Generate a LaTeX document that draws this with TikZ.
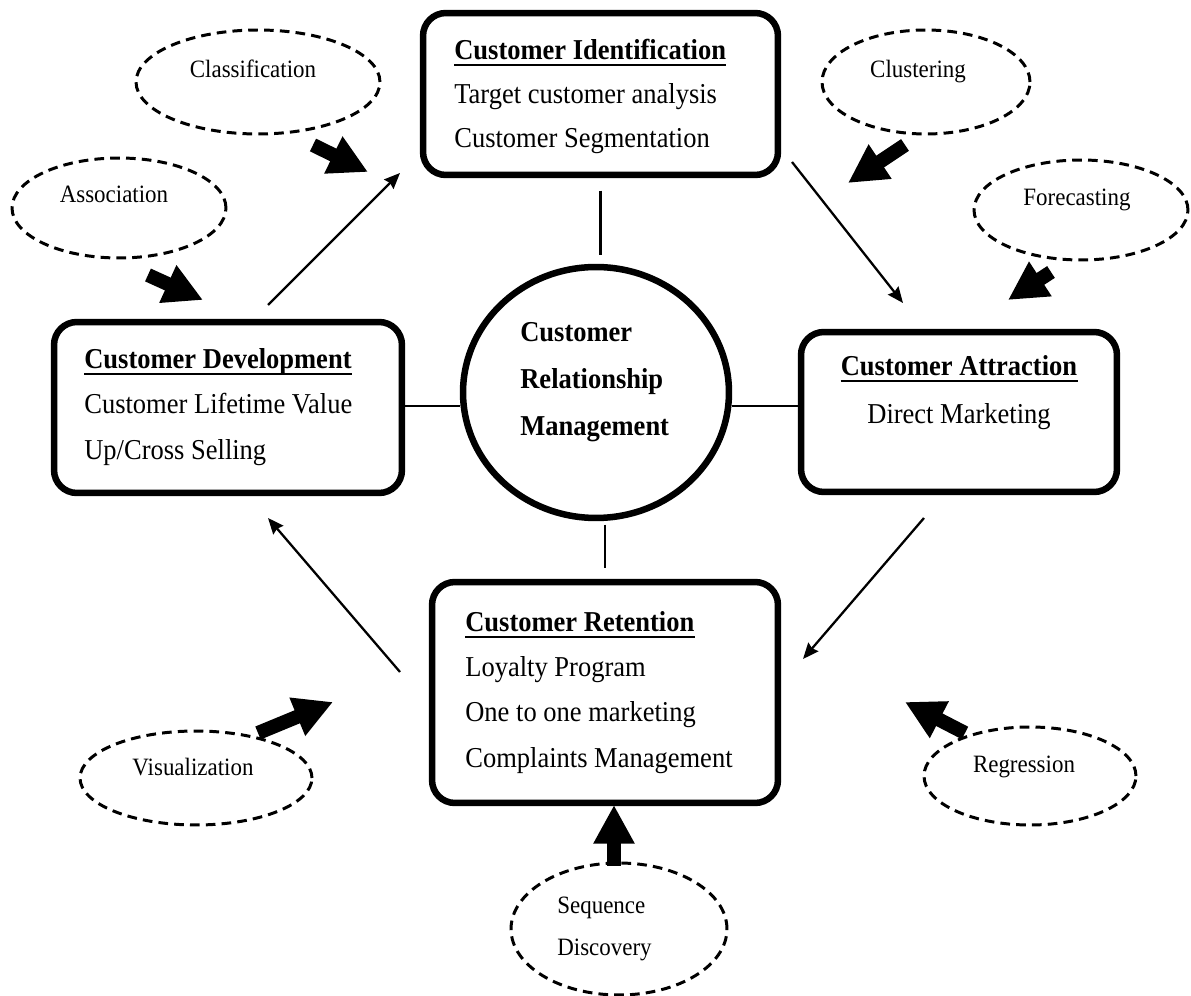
\documentclass[tikz,border=0pt]{standalone}
\usepackage{fontspec}
\setmainfont{Liberation Serif}[FakeStretch=0.92]
\usetikzlibrary{arrows.meta,shapes.geometric}
\newcommand{\bigf}{\fontsize{16.4pt}{19pt}\selectfont}
\newcommand{\smallf}{\fontsize{14.2pt}{17pt}\selectfont}
\begin{document}
\begin{tikzpicture}[x=0.02cm,y=-0.02cm,
  box/.style={draw, line width=3.7pt, rounded corners=13pt, inner sep=0pt},
  crmshape/.style={draw, ellipse, line width=3.7pt, inner sep=0pt},
  oval/.style={draw, ellipse, dash pattern=on 5.5pt off 3.5pt, line width=1.7pt, inner sep=0pt},
  txt/.style={inner sep=0pt, font=\bigf, anchor=base west},
  ttl/.style={inner sep=0pt, font=\bigf\bfseries, anchor=base west},
  lbl/.style={inner sep=0pt, font=\smallf, anchor=base},
  uline/.style={line width=1.5pt},
  link/.style={line width=1.2pt},
  flow/.style={line width=1.3pt, -{Stealth[length=9pt,width=7.5pt,inset=1pt]}},
  fat/.style={line width=8pt, -{Triangle[length=22pt,width=22pt]}}
]
\useasboundingbox (0,0) rectangle (1191,996);

% main boxes
\node[box, minimum width=7.1cm, minimum height=3.24cm] (ident) at (600.5,94) {};
\node[box, minimum width=6.96cm, minimum height=3.42cm] (dev) at (228,407.5) {};
\node[box, minimum width=6.32cm, minimum height=3.2cm] (att) at (959,412) {};
\node[box, minimum width=6.92cm, minimum height=4.42cm] (ret) at (605,692.5) {};
\node[crmshape, minimum width=5.32cm, minimum height=5.02cm] (crm) at (596,392.5) {};

% texts in boxes
\node[ttl] (tid) at (454,60) {Customer Identification};
\draw[uline] ([yshift=-2.8pt]tid.base west) -- ([yshift=-2.8pt]tid.base east);
\node[txt] (tid1) at (454,104) {Target customer analysis};
\node[txt] (tid2) at (454,148) {Customer Segmentation};

\node[ttl] (tdv) at (84,369) {Customer Development};
\draw[uline] ([yshift=-2.8pt]tdv.base west) -- ([yshift=-2.8pt]tdv.base east);
\node[txt] (tdv1) at (84,414) {Customer Lifetime Value};
\node[txt] (tdv2) at (84,460) {Up/Cross Selling};

\node[ttl, anchor=base] (tat) at (959,376) {Customer Attraction};
\draw[uline] ([yshift=-2.8pt]tat.base west) -- ([yshift=-2.8pt]tat.base east);
\node[txt, anchor=base] (tat1) at (959,424) {Direct Marketing};

\node[ttl] (trt) at (465,632) {Customer Retention};
\draw[uline] ([yshift=-2.8pt]trt.base west) -- ([yshift=-2.8pt]trt.base east);
\node[txt] (trt1) at (465,677) {Loyalty Program};
\node[txt] (trt2) at (465,722) {One to one marketing};
\node[txt] (trt3) at (465,768) {Complaints Management};

\node[ttl] (tc1) at (520,342) {Customer};
\node[ttl] (tc2) at (520,389) {Relationship};
\node[ttl] (tc3) at (520,436) {Management};

% dashed ovals
\node[oval, minimum width=4.88cm, minimum height=2.08cm] (ecl) at (258,82) {};
\node[oval, minimum width=4.28cm, minimum height=2.0cm] (eas) at (119,208) {};
\node[oval, minimum width=4.16cm, minimum height=2.08cm] (ecu) at (926,82) {};
\node[oval, minimum width=4.28cm, minimum height=2.0cm] (efo) at (1081,210) {};
\node[oval, minimum width=4.64cm, minimum height=1.88cm] (evi) at (196,778) {};
\node[oval, minimum width=4.24cm, minimum height=1.96cm] (ere) at (1030,776) {};
\node[oval, minimum width=4.32cm, minimum height=2.64cm] (ese) at (619,929) {};

\node[lbl] (lcl) at (253,78) {Classification};
\node[lbl] (las) at (114,203) {Association};
\node[lbl] (lcu) at (918,78) {Clustering};
\node[lbl] (lfo) at (1077,206) {Forecasting};
\node[lbl] (lvi) at (193,776) {Visualization};
\node[lbl] (lre) at (1024,773) {Regression};
\node[lbl, anchor=base west] (lse1) at (557,913) {Sequence};
\node[lbl, anchor=base west] (lse2) at (557,955) {Discovery};

% plain links to the centre
\draw[link, shorten <=7pt, shorten >=5pt] (ident.south) -- (ident.south |- crm.north);
\draw[link, shorten <=2pt, shorten >=6pt] (crm.south -| ret.north) -- (ret.north);
\draw[link] ([yshift=1pt]dev.east) -- ([yshift=1pt]dev.east -| crm.west);
\draw[link] ([yshift=3.4pt]crm.east |- att.west) -- ([yshift=3.4pt]att.west);

% cycle arrows
\coordinate (d1) at (268,305); \coordinate (i1) at (400,173);
\coordinate (i2) at (792,162); \coordinate (a2) at (903,303);
\coordinate (a3) at (924,518); \coordinate (r3) at (803,659);
\coordinate (r4) at (400,672); \coordinate (d4) at (268,518);
\draw[flow] (d1) -- (i1);
\draw[flow] (i2) -- (a2);
\draw[flow] (a3) -- (r3);
\draw[flow] (r4) -- (d4);

% fat arrows from the techniques
\coordinate (fcl0) at (313,145); \coordinate (fcl1) at (368,172);
\coordinate (fas0) at (148,275); \coordinate (fas1) at (203,300);
\coordinate (fcu0) at (905,145); \coordinate (fcu1) at (848,183);
\coordinate (ffo0) at (1051,272); \coordinate (ffo1) at (1008,300);
\coordinate (fvi0) at (258,733); \coordinate (fvi1) at (333,702);
\coordinate (fre0) at (965,733); \coordinate (fre1) at (905,702);
\coordinate (fse0) at (614,866); \coordinate (fse1) at (614,805);
\draw[fat] (fcl0) -- (fcl1);
\draw[fat] (fas0) -- (fas1);
\draw[fat] (fcu0) -- (fcu1);
\draw[fat] (ffo0) -- (ffo1);
\draw[fat] (fvi0) -- (fvi1);
\draw[fat] (fre0) -- (fre1);
\draw[fat] (fse0) -- (fse1);
\end{tikzpicture}
\end{document}
